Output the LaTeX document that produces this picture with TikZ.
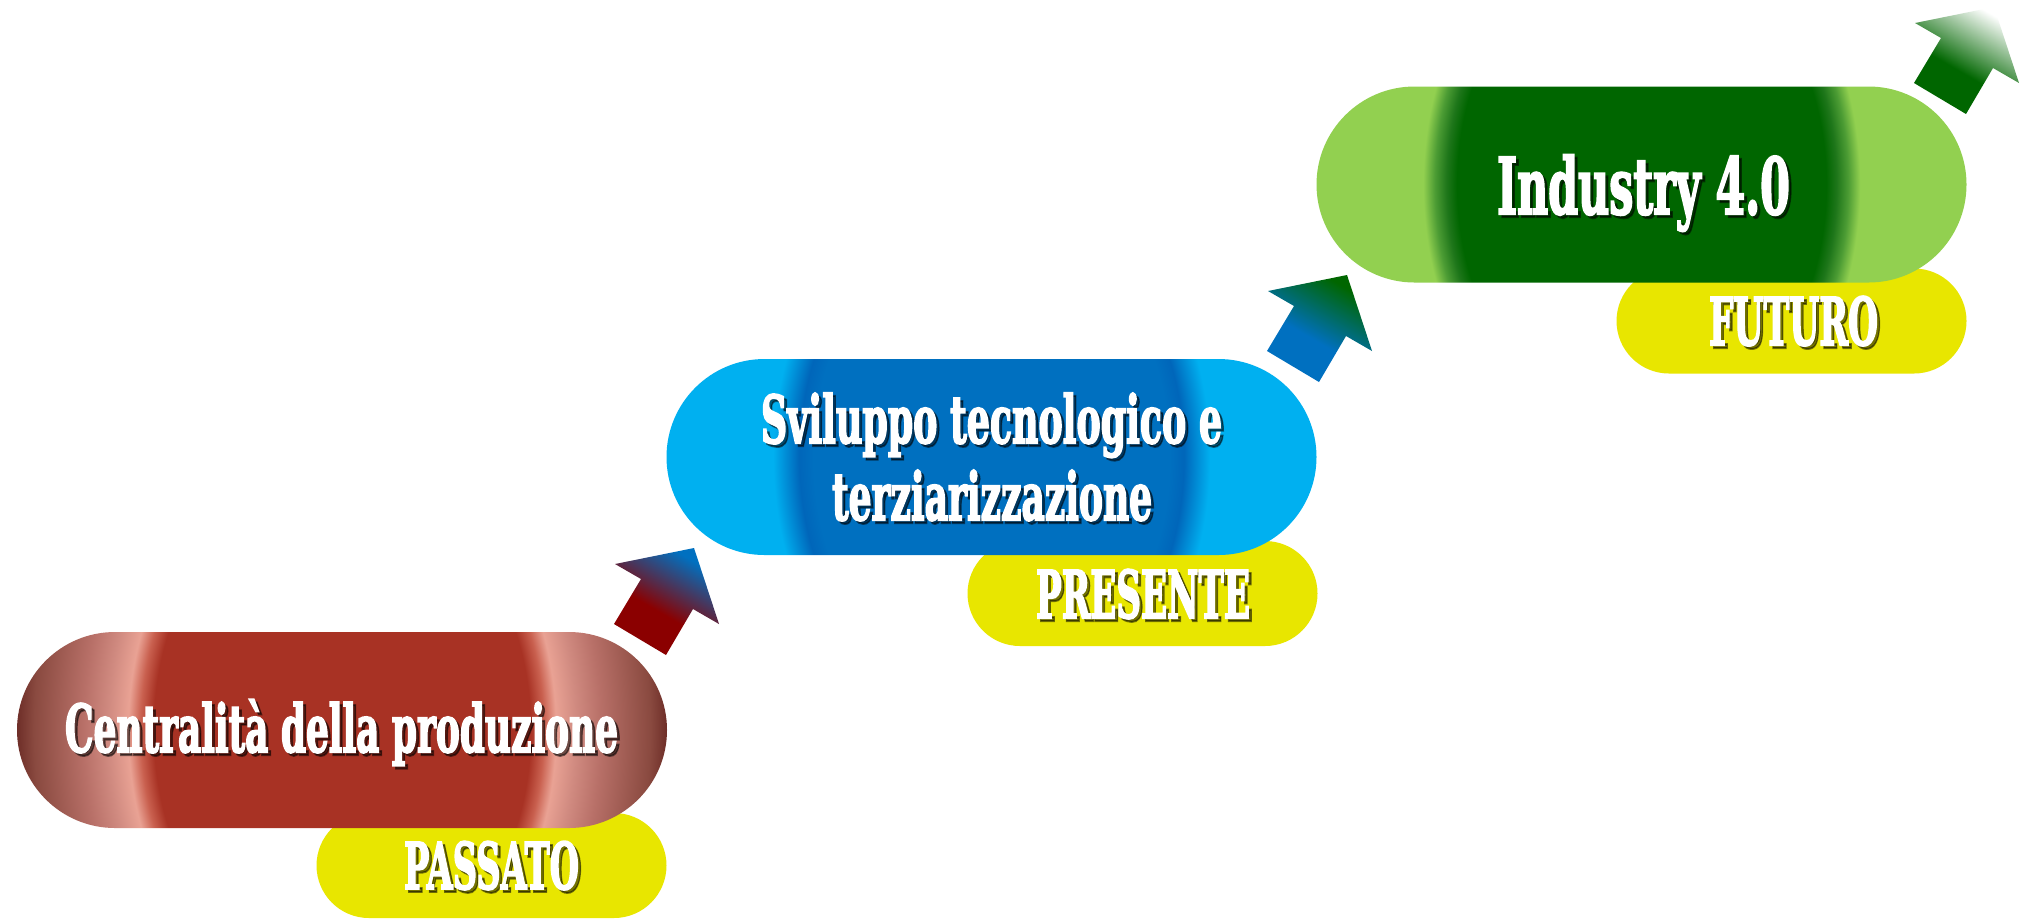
\documentclass[tikz,border=0pt]{standalone}
\usepackage{fontspec}
\usepackage{graphicx}
\newfontfamily\slab{DejaVu Serif Condensed Bold}[FakeBold=3]

% palette
\definecolor{redEdge}{HTML}{6E2E28}
\definecolor{redDeep}{HTML}{8A4A40}
\definecolor{redMid}{HTML}{B87068}
\definecolor{redSoft}{HTML}{D08A80}
\definecolor{redPink}{HTML}{E9A294}
\definecolor{redGlow}{HTML}{C9604F}
\definecolor{redMain}{HTML}{A83224}
\definecolor{cyanEdge}{HTML}{00B0F0}
\definecolor{blueRim}{HTML}{0066BA}
\definecolor{blueMain}{HTML}{0070C0}
\definecolor{limeEdge}{HTML}{92D050}
\definecolor{greenSoft}{HTML}{4C9C34}
\definecolor{greenRim}{HTML}{1E761A}
\definecolor{greenMain}{HTML}{006600}
\definecolor{tagYellow}{HTML}{E8E600}
\definecolor{arRed}{HTML}{8B0000}

% elliptical ring profiles of the pills (25bp = half width of the shading box)
\pgfdeclareradialshading{redring}{\pgfpoint{0bp}{0bp}}{color(0bp)=(redMain); color(14.5bp)=(redMain);
  color(15.5bp)=(redGlow); color(16.45bp)=(redPink); color(18bp)=(redSoft);
  color(19.9bp)=(redMid); color(23.7bp)=(redDeep); color(25bp)=(redEdge); color(50bp)=(redEdge)}
\pgfdeclareradialshading{bluering}{\pgfpoint{0bp}{0bp}}{color(0bp)=(blueMain); color(13.7bp)=(blueMain);
  color(14.8bp)=(blueRim); color(16.8bp)=(cyanEdge); color(50bp)=(cyanEdge)}
\pgfdeclareradialshading{greenring}{\pgfpoint{0bp}{0bp}}{color(0bp)=(greenMain); color(14.2bp)=(greenMain);
  color(15bp)=(greenRim); color(15.9bp)=(greenSoft); color(16.8bp)=(limeEdge); color(50bp)=(limeEdge)}

% arrow fills, from tail (bottom) to tip (top)
\pgfdeclareverticalshading{arrowRB}{100bp}{color(0bp)=(arRed); color(25bp)=(arRed);
  color(44bp)=(arRed); color(73bp)=(blueMain); color(100bp)=(blueMain)}
\pgfdeclareverticalshading{arrowBG}{100bp}{color(0bp)=(blueMain); color(25bp)=(blueMain);
  color(44bp)=(blueMain); color(73bp)=(greenMain); color(100bp)=(greenMain)}
\pgfdeclareverticalshading{arrowGW}{100bp}{color(0bp)=(greenMain); color(25bp)=(greenMain);
  color(44bp)=(greenMain); color(75bp)=(white); color(100bp)=(white)}

% text squeezed horizontally to a given width (px), at a given font size (pt)
\newsavebox\lblbox
\newlength\lblw
\newcommand\fitto[3]{%
  \sbox\lblbox{\fontsize{#2pt}{#2pt}\selectfont\slab #3}%
  \setlength\lblw{\wd\lblbox}%
  \pgfmathsetmacro\lblsx{#1*0.5/\lblw}%
  \scalebox{\lblsx}[1]{\usebox\lblbox}}

% white lettering with a soft drop shadow
\newcommand\labeltext[5]{%
  \node[lblshadow] at #2 {\fitto{#3}{#4}{#5}};
  \node[lbl] (#1) at #2 {\fitto{#3}{#4}{#5}};}

% the arrow outline, tip at the origin
\newcommand\arrowoutline{(0,0) -- (25,76) -- (-1,61) -- (-28,107) -- (-80,76) -- (-53,31) -- (-79,16) -- cycle}

\begin{document}
\begin{tikzpicture}[x=0.5pt,y=-0.5pt,
  pill/.style={rectangle, rounded corners=49pt, minimum width=325pt, minimum height=98pt,
    inner sep=0pt, draw=none,
    path picture={\shade[shading=#1] (path picture bounding box.center) ++(-325,-432) rectangle ++(650,864);}},
  tag/.style={rectangle, rounded corners=26.25pt, minimum width=175pt, minimum height=52.5pt,
    inner sep=0pt, fill=tagYellow, draw=none},
  lbl/.style={anchor=base, inner sep=0pt, text=white},
  lblshadow/.style={anchor=base, inner sep=0pt, text=black, text opacity=0.5,
    xshift=1.5pt, yshift=-1.5pt},
  uparrow/.style={shade, shading angle=-30}
]
\useasboundingbox (0,0) rectangle (2023,918);
\fill[white] (0,0) rectangle (2023,918);

% period tags, partly hidden behind the pills
\node[tag] (passato) at (491.5,865.5) {};
\node[tag] (presente) at (1142.5,593.5) {};
\node[tag] (futuro) at (1791.5,321) {};

% the three stages
\node[pill=redring] (past) at (342,730) {};
\node[pill=bluering] (present) at (991.5,457) {};
\node[pill=greenring] (future) at (1641.5,184.5) {};

% rising arrows between the stages
\coordinate (tipA) at (694,548);
\coordinate (tipB) at (1347,275);
\coordinate (tipC) at (1994,7);
\begin{scope}[shift={(tipA)}]
  \path[uparrow, shading=arrowRB] \arrowoutline;
\end{scope}
\begin{scope}[shift={(tipB)}]
  \path[uparrow, shading=arrowBG] \arrowoutline;
\end{scope}
\begin{scope}[shift={(tipC)}]
  \path[uparrow, shading=arrowGW] \arrowoutline;
\end{scope}

% texts
\labeltext{txtpast}{(341.5,752)}{553}{32.9}{Centralità della produzione}
\labeltext{txtpresA}{(991.5,443)}{461}{33}{Sviluppo tecnologico e}
\labeltext{txtpresB}{(992,520)}{320}{33}{terziarizzazione}
\labeltext{txtfut}{(1643.5,214)}{293}{39}{Industry 4.0}
\labeltext{lblpast}{(491.5,889)}{175}{32.2}{PASSATO}
\labeltext{lblpres}{(1143,618)}{214}{32.9}{PRESENTE}
\labeltext{lblfut}{(1793.5,345)}{169}{32.9}{FUTURO}
\end{tikzpicture}
\end{document}
